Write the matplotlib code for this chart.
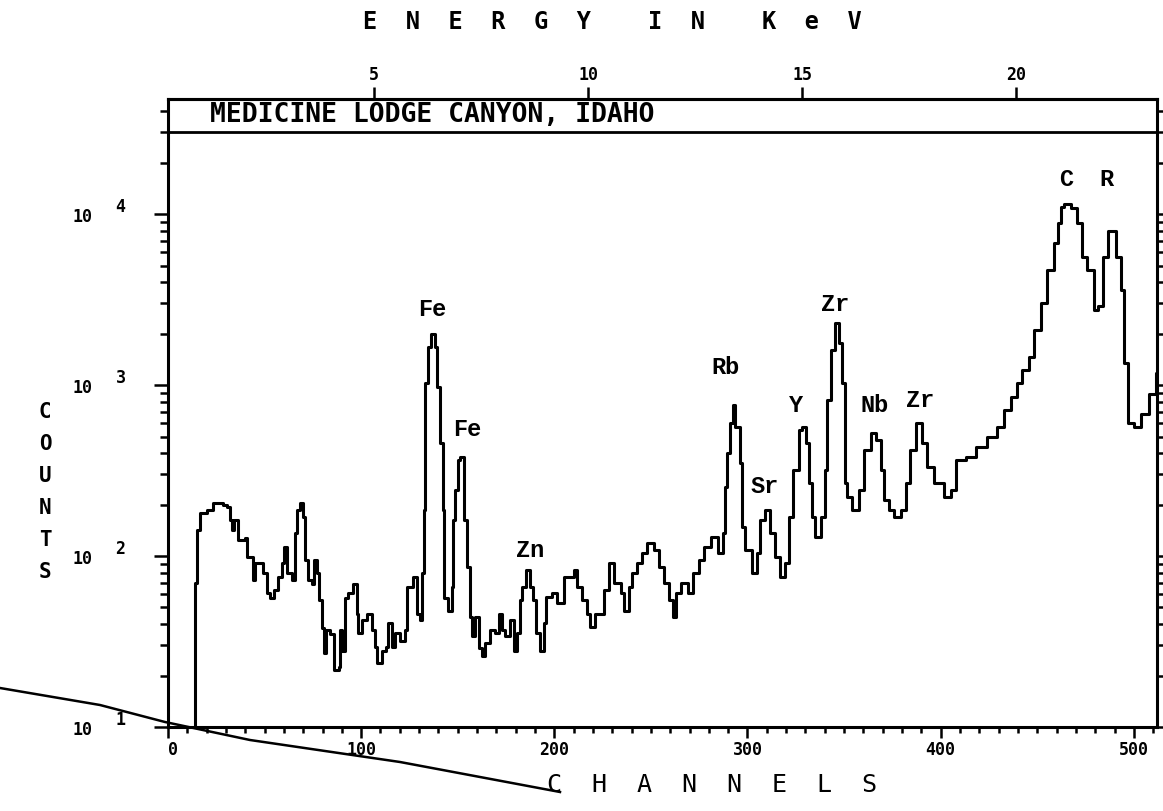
import matplotlib
matplotlib.use("Agg")
import matplotlib.pyplot as plt
from matplotlib.lines import Line2D
from matplotlib.ticker import LogLocator, MultipleLocator, NullFormatter
import matplotlib.transforms as mtransforms

# spectrum: channel where each step starts, counts of the step
channels = [0, 14, 15, 16.5, 20, 23.5, 28.7, 30.4, 32, 33, 34, 36, 40, 41, 44, 45, 49, 51, 53, 55,
            57, 59, 60, 61.5, 64, 66, 67, 68.5, 70, 71, 72.7, 74.4, 75.6, 77, 78.4, 79.6, 81, 82, 84,
            85.7, 88.3, 89, 90, 91.7, 93.4, 95.7, 97.7, 98.6, 100.3, 103, 105.5, 107, 108, 110.7,
            113, 114, 116, 117.6, 120, 122.8, 123.7, 127, 128.8, 130.6, 131.4, 132.3, 133.2, 134.5,
            136, 138.3, 139.2, 140.6, 142.3, 143, 145, 147, 147.8, 148.7, 150,
            151, 153.2, 154.7, 156.5, 157.4, 159.1, 160.8, 162.5, 164.2, 166.8, 169.4, 171.2, 172.9,
            174.6, 177.2, 178.9, 180.6, 182, 183.2, 185.5, 187.2, 188.9, 190.7, 192.7, 194.8, 195.9,
            198.8, 201.4, 205.2, 210, 211.8, 214.3, 216.9, 218.7, 221.3, 225.6, 228.2, 230.8, 234.3,
            236, 238.6, 240.4, 243, 245.6, 248.2, 251.7, 254.3, 256.9, 259.5, 261.2, 263, 265.6, 269,
            271.6, 275.1, 277.7, 281.2, 284.6, 287.2, 288.1, 289.5, 291.2, 292.5,
            293.7, 296.3, 297.2, 298.9, 302.3, 304.9, 306.6, 309.2, 311.8, 314.4, 317, 319.6, 321.3,
            323.6, 326.5, 328.2, 330.5, 331.7, 333.4, 335.1, 337.8, 339.9, 341.3, 343.3, 345.2,
            347.3, 349, 350.4, 351.6, 354.2, 357.7, 360.3, 363.7, 366.3, 368.9, 370.6, 373.2, 375.8,
            379.3, 381.9, 384.1, 387.2, 390.5, 393.1, 396.5, 401.7, 405.2, 407.8, 413, 418.1, 424.1,
            429.4, 432.8, 436.3, 439.7, 442.3, 445.8, 448.4, 451.8, 455.3, 458.7, 460.5, 462.5, 464,
            467.4, 470.8, 473.4, 476, 479.5, 481.2, 483.8, 486.4, 489, 490.8, 493.4, 494.7, 496.8,
            500.3, 503.8, 508.1, 511.5, 512]
counts = [1, 70, 142, 178, 186, 204, 200, 194, 163, 142, 163, 124, 127, 99, 72, 91, 80, 61, 57, 63,
          75, 91, 113, 80, 72, 136, 186, 204, 169, 95, 72, 69, 95, 80, 55, 38, 27, 37, 35,
          21.5, 22.4, 37, 28, 57, 61, 69, 46, 35.5, 42, 46, 37, 29.4, 23.7, 28,
          29.4, 40.5, 29.4, 35.5, 32, 37, 66, 75, 46, 42, 80, 186, 1030, 1670,
          2000, 1670, 970, 460, 186, 57, 48, 66, 163, 243, 364,
          380, 163, 86, 44, 34, 44, 29, 26, 31, 37, 35.5, 46, 37,
          34, 42, 28, 35.5, 55, 66, 83, 66, 55, 35.5, 28, 40.5, 57.5,
          61, 53, 75, 83, 66, 55, 46, 38.5, 46, 63, 91, 70, 61,
          48, 66, 80, 91, 104, 119, 108, 86, 70, 55, 44, 61, 70, 61,
          80, 95, 113, 129, 104, 136, 253, 400, 600, 760,
          570, 350, 148, 108, 80, 104, 163, 186, 136, 99, 75, 91, 169,
          318, 545, 570, 458, 267, 169, 129, 169, 318, 816, 1600, 2300,
          1750, 1030, 267, 222, 186, 243, 415, 525, 480, 318, 212, 186, 169,
          186, 267, 415, 600, 458, 330, 267, 222, 243, 364, 380, 432, 495,
          570, 717, 855, 1030, 1230, 1460, 2100, 3000, 4700, 6800, 8900, 11000, 11400,
          10900, 8900, 5600, 4700, 2750, 2900, 5600, 8000, 8000, 5600, 3600, 1340, 600,
          570, 680, 890, 1180, 1180]

peak_names = ["Fe", "Fe", "Zn", "Rb", "Sr", "Y", "Zr", "Nb", "Zr", "C", "R"]
peak_channels = [137, 155, 187.5, 288.5, 309, 325, 345.5, 366, 389.5, 465, 486]
peak_counts = [2750, 550, 108, 1260, 254, 760, 2950, 760, 815, 15900, 15900]

channel_ticks = [0, 100, 200, 300, 400, 500]
kev_ticks = [5, 10, 15, 20]
decades = [1, 2, 3, 4]
title = "MEDICINE LODGE CANYON, IDAHO"

W, H = 1163, 811


def fx(x):
    return x / W


def fy(y):
    return 1 - y / H


def ch_to_kev(ch):
    return 0.19 + 0.0451 * ch


def kev_to_ch(e):
    return (e - 0.19) / 0.0451


fig = plt.figure(figsize=(W / 100, H / 100), dpi=100)
ax = fig.add_axes([fx(168), fy(727), (1157 - 168) / W, (727 - 99) / H])

ax.step(channels, counts, where="post", color="black", lw=2.2)
ax.set_yscale("log")
ax.set_xlim(0, 512)
ax.set_ylim(10, 10 ** 4.673)

# title band
ax.axhline(3e4, color="black", lw=2)
ax.text(0.042, 0.975, title, transform=ax.transAxes, ha="left", va="center",
        family="DejaVu Sans Mono", weight="bold", fontsize=19)

for s in ax.spines.values():
    s.set_linewidth(2.2)

ax.yaxis.set_major_locator(LogLocator(base=10, numticks=10))
ax.yaxis.set_minor_locator(LogLocator(base=10, subs=range(2, 10), numticks=20))
ax.yaxis.set_major_formatter(NullFormatter())
ax.yaxis.set_minor_formatter(NullFormatter())
ax.tick_params(axis="y", which="both", direction="out", left=True, right=True, width=1.8)
ax.tick_params(axis="y", which="major", length=10)
ax.tick_params(axis="y", which="minor", length=6)

ax.set_xticks(channel_ticks)
ax.set_xticklabels([str(c) for c in channel_ticks], family="DejaVu Sans Mono",
                   weight="bold", fontsize=12)
ax.xaxis.set_minor_locator(MultipleLocator(10))
ax.tick_params(axis="x", which="both", direction="out", width=1.8, pad=2)
ax.tick_params(axis="x", which="major", length=8)
ax.tick_params(axis="x", which="minor", length=4)
ax.get_xticklabels()[0].set_ha("left")

top = ax.secondary_xaxis("top", functions=(ch_to_kev, kev_to_ch))
top.set_xticks(kev_ticks)
top.set_xticklabels([str(k) for k in kev_ticks], family="DejaVu Sans Mono",
                    weight="bold", fontsize=12)
top.tick_params(axis="x", direction="out", length=9, width=1.8, pad=2)
top.spines["top"].set_linewidth(2.2)

# decade labels, 10 with a raised exponent
ytrans = ax.get_yaxis_transform()
for d in decades:
    base = mtransforms.offset_copy(ytrans, fig=fig, y=-3, units="dots")
    ax.text(-0.086, 10 ** d, "10", transform=base, ha="center", va="center",
            family="DejaVu Sans Mono", weight="bold", fontsize=12, clip_on=False)
    expo = mtransforms.offset_copy(ytrans, fig=fig, y=7, units="dots")
    ax.text(-0.048, 10 ** d, str(d), transform=expo, ha="center", va="center",
            family="DejaVu Sans Mono", weight="bold", fontsize=12, clip_on=False)

for name, c, v in zip(peak_names, peak_channels, peak_counts):
    ax.text(c, v, name, ha="center", va="center", family="Liberation Mono",
            weight="bold", fontsize=17)

fig.text(fx(612), fy(22), "E  N  E  R  G  Y    I  N    K  e  V", ha="center", va="center",
         family="DejaVu Sans Mono", weight="bold", fontsize=17)
fig.text(fx(712), fy(785), "C  H  A  N  N  E  L  S", ha="center", va="center",
         family="DejaVu Sans Mono", fontsize=18)
fig.text(fx(45), fy(492), "C\nO\nU\nN\nT\nS", ha="center", va="center",
         family="DejaVu Sans Mono", weight="bold", fontsize=15, linespacing=1.75)

# crease line across the lower left of the scan
crease_x = [0, 100, 165, 250, 400, 560]
crease_y = [688, 705, 722, 740, 762, 792]
fig.add_artist(Line2D([fx(v) for v in crease_x], [fy(v) for v in crease_y],
                      transform=fig.transFigure, color="black", lw=1.8))

fig.savefig("out.png", dpi=100)
